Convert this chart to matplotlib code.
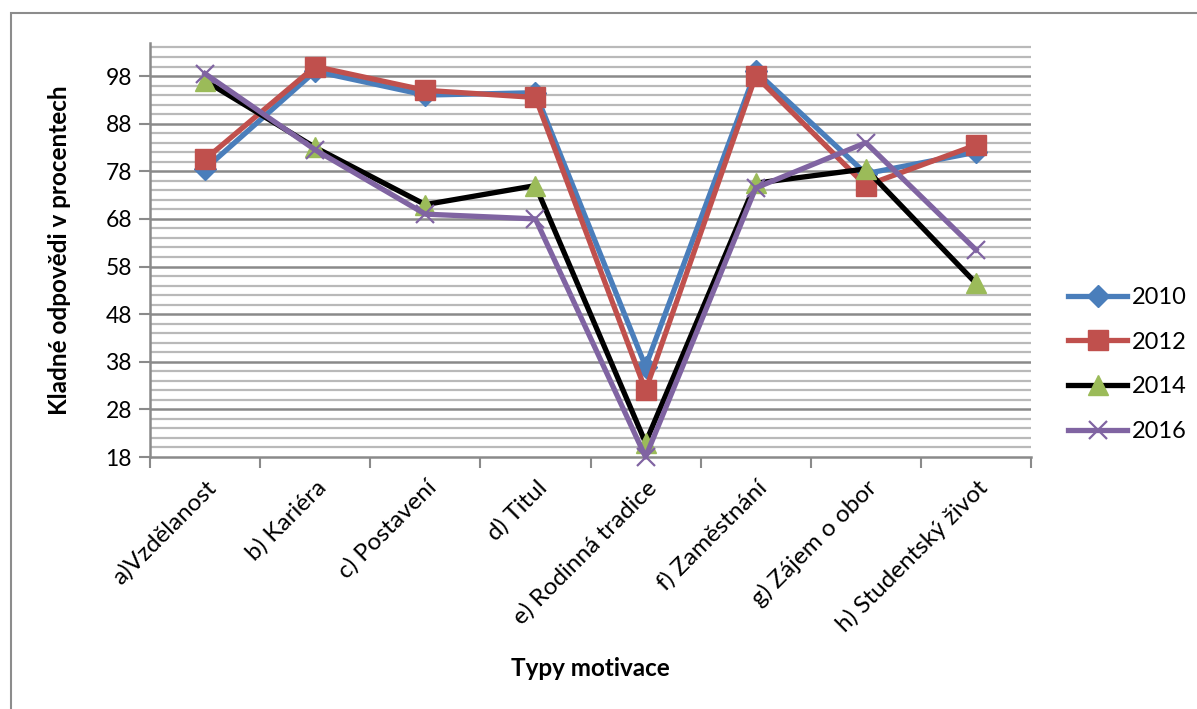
import matplotlib
matplotlib.use("Agg")
import matplotlib.pyplot as plt
from matplotlib.patches import Rectangle
import numpy as np

categories = ["a)Vzdělanost", "b) Kariéra", "c) Postavení", "d) Titul",
              "e) Rodinná tradice", "f) Zaměstnání", "g) Zájem o obor",
              "h) Studentský život"]
s2010 = [78.5, 99, 94, 94.5, 37, 99, 77.5, 82]
s2012 = [80.5, 100, 95, 93.5, 32, 98, 75, 83.5]
s2014 = [97, 83, 71, 75, 21, 75.5, 78.5, 54.5]
s2016 = [98.5, 82.5, 69, 68, 18, 74.5, 84, 61.5]
series_names = ["2010", "2012", "2014", "2016"]
ytick_vals = [18, 28, 38, 48, 58, 68, 78, 88, 98]

plt.rcParams['font.family'] = ['Lato', 'DejaVu Sans']

W, H = 1197, 709
fig = plt.figure(figsize=(W / 100, H / 100), dpi=100)
fig.patch.set_facecolor("white")

# outer chart frame
fig.patches.append(Rectangle((11 / W, -0.1), 1.2, 1 - 13.3 / H + 0.1,
                             transform=fig.transFigure, fill=False,
                             edgecolor="#8c8c8c", linewidth=1.5))

left, right, bottom, top = 150 / W, 1031 / W, 1 - 457 / H, 1 - 42.7 / H
ax = fig.add_axes([left, bottom, right - left, top - bottom])

x = np.arange(len(categories)) + 0.5
styles = [
    dict(color="#4A7EBB", marker="D", markersize=11, markerfacecolor="#4A7EBB"),
    dict(color="#C0504D", marker="s", markersize=14, markerfacecolor="#C0504D"),
    dict(color="black", marker="^", markersize=15, markerfacecolor="#9BBB59",
         markeredgecolor="#9BBB59"),
    dict(color="#8064A2", marker="x", markersize=13, markeredgewidth=1.6),
]
for vals, name, st in zip([s2010, s2012, s2014, s2016], series_names, styles):
    ax.plot(x, vals, linewidth=3.8, label=name, zorder=3,
            solid_joinstyle="round", clip_on=False, **st)

ax.set_xlim(0, len(categories))
ax.set_ylim(18, 105)

# gridlines
for v in np.arange(20, 105, 2):
    if (v - 18) % 10 == 0:
        continue
    ax.axhline(v, color="#b9b9b9", linewidth=1.6, zorder=1)
for v in ytick_vals[1:]:
    ax.axhline(v, color="#8a8a8a", linewidth=1.8, zorder=1)

ax.set_yticks(ytick_vals)
ax.set_yticklabels([str(v) for v in ytick_vals], fontsize=16.5)
ax.tick_params(axis="y", length=8, width=1.5, color="#8a8a8a", pad=5)

ax.set_xticks(x)
ax.set_xticklabels(categories, fontsize=17.5, rotation=45, ha="right",
                   rotation_mode="anchor")
ax.tick_params(axis="x", which="major", length=0, pad=14)
ax.set_xticks(np.arange(0, len(categories) + 1), minor=True)
ax.tick_params(axis="x", which="minor", length=8, width=1.5, color="#8a8a8a")

for side in ["top", "right"]:
    ax.spines[side].set_visible(False)
for side in ["left", "bottom"]:
    ax.spines[side].set_color("#8a8a8a")
    ax.spines[side].set_linewidth(1.8)

fig.text((150 + 1031) / 2 / W, 1 - 668 / H, "Typy motivace", fontsize=17.5,
         fontweight="bold", ha="center", va="center")
fig.text(60 / W, 1 - 250 / H, "Kladné odpovědi v procentech", fontsize=17.5,
         fontweight="bold", ha="center", va="center", rotation=90)

leg = ax.legend(loc="center left", bbox_to_anchor=(1068 / W, 1 - 364.5 / H),
                bbox_transform=fig.transFigure, frameon=False, fontsize=17,
                handlelength=2.5, handletextpad=0.2, labelspacing=1.0,
                borderpad=0, borderaxespad=0)

fig.savefig("out.png", dpi=100, facecolor="white")
